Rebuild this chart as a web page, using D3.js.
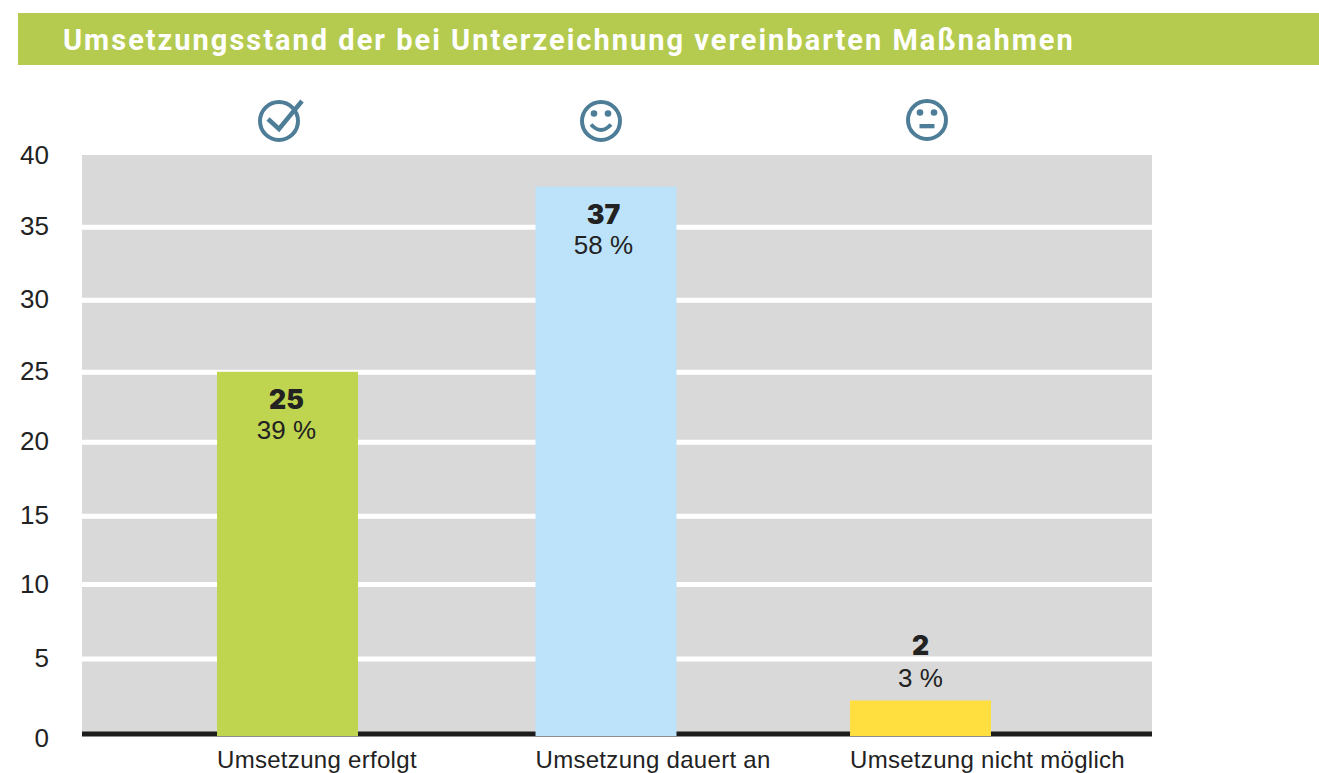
<!DOCTYPE html>
<html lang="de">
<head>
<meta charset="utf-8">
<title>Umsetzungsstand</title>
<script src="https://cdn.jsdelivr.net/npm/d3@7"></script>
<style>
html,body{margin:0;padding:0;background:#fff;overflow:hidden}
svg{display:block}
text{font-family:"Liberation Sans",Arial,sans-serif;fill:#222}
</style>
</head>
<body>
<svg id="chart" width="1319" height="773"></svg>
<script>
const chartTitle = "Umsetzungsstand der bei Unterzeichnung vereinbarten Maßnahmen";
const categories = ["Umsetzung erfolgt", "Umsetzung dauert an", "Umsetzung nicht möglich"];
const barValues = [25, 37.8, 2.2];   // bar heights as drawn
const countLabels = ["25", "37", "2"];
const shareLabels = ["39 %", "58 %", "3 %"];
const barColors = ["#bfd44f", "#bde3fa", "#ffdf3f"];
const iconKinds = ["check", "smile", "neutral"];
const tickValues = [0, 5, 10, 15, 20, 25, 30, 35, 40];

const svg = d3.select("#chart");
const plot = {left: 82, right: 1152, top: 155};
const baselineW = 5;

// The printed axis is slightly uneven, so the scale follows its measured tick rows.
const y = d3.scaleLinear()
  .domain(tickValues)
  .range([733.5, 658.5, 584, 515.8, 441.7, 371.8, 299.8, 226.8, 155]);
const x = d3.scaleOrdinal().domain(categories).range([217, 535.5, 850]);
const barWidth = 141;
const labelX = d3.scaleOrdinal().domain(categories).range([286.5, 603.5, 920.5]);
const iconX = d3.scaleOrdinal().domain(categories).range([279, 601, 927]);

// header
svg.append("rect").attr("x", 18).attr("y", 13).attr("width", 1301).attr("height", 52).attr("fill", "#b5cb4f");
svg.append("text").attr("x", 63).attr("y", 49.5)
  .style("font-family", "Roboto, sans-serif").style("font-weight", 700)
  .style("font-size", "29px").style("letter-spacing", "2px").style("fill", "#fff")
  .text(chartTitle);

// plot background
svg.append("rect").attr("x", plot.left).attr("y", plot.top)
  .attr("width", plot.right - plot.left).attr("height", y(0) - plot.top).attr("fill", "#d9d9d9");

// y axis with full-width gridlines
const axis = svg.append("g").attr("transform", `translate(${plot.left},0)`)
  .call(d3.axisLeft(y).tickValues(tickValues).tickFormat(d3.format("d"))
    .tickSize(-(plot.right - plot.left)).tickPadding(33));
axis.select(".domain").remove();
axis.selectAll(".tick line")
  .attr("stroke", d => d === 0 ? "#1d1d1b" : "#fff")
  .attr("stroke-width", d => d === 40 ? 0 : baselineW)
  .attr("stroke-opacity", 1);
axis.selectAll(".tick text")
  .attr("dy", d => d === 0 ? "12.5px" : "8px")
  .style("font-size", "26px").style("fill", "#222");

// bars
svg.append("g").selectAll("rect").data(categories).join("rect")
  .attr("x", d => x(d))
  .attr("y", (d, i) => y(barValues[i]))
  .attr("width", barWidth)
  .attr("height", (d, i) => y(0) + baselineW / 2 - y(barValues[i]))
  .attr("fill", (d, i) => barColors[i]);

// value labels: inside tall bars, above the short one
const isTall = i => barValues[i] > 10;
svg.append("g").selectAll("text").data(categories).join("text")
  .attr("x", d => labelX(d))
  .attr("y", (d, i) => y(barValues[i]) + (isTall(i) ? 37.5 : -46))
  .attr("text-anchor", "middle")
  .style("font-family", "Inter, sans-serif").style("font-weight", 900).style("font-size", "26.5px")
  .text((d, i) => countLabels[i]);
svg.append("g").selectAll("text").data(categories).join("text")
  .attr("x", d => labelX(d))
  .attr("y", (d, i) => y(barValues[i]) + (isTall(i) ? 67.5 : -14))
  .attr("text-anchor", "middle")
  .style("font-size", "26px")
  .text((d, i) => shareLabels[i]);

// category labels
svg.append("g").selectAll("text").data(categories).join("text")
  .attr("x", d => x(d))
  .attr("y", 767.8)
  .style("font-size", "24px").style("letter-spacing", "0.3px")
  .text(d => d);

// icons
const iconColor = "#4e7d98";
const icons = svg.append("g").selectAll("g").data(categories).join("g")
  .attr("transform", (d, i) => `translate(${iconX(d)},${iconKinds[i] === "neutral" ? 120 : 121})`);
icons.append("circle").attr("r", 19).attr("fill", "none").attr("stroke", iconColor).attr("stroke-width", 4);
icons.each(function (d, i) {
  const g = d3.select(this), kind = iconKinds[i];
  if (kind === "check") {
    g.append("path").attr("d", "M-11,-2L0,8L23,-20").attr("fill", "none")
      .attr("stroke", iconColor).attr("stroke-width", 4.5);
  } else {
    [-7, 7].forEach(ex => g.append("circle").attr("cx", ex).attr("cy", -7.5).attr("r", 3.3).attr("fill", iconColor));
    if (kind === "smile") {
      g.append("path").attr("d", "M-10,3.5Q0,14.5 10,3.5").attr("fill", "none")
        .attr("stroke", iconColor).attr("stroke-width", 4);
    } else {
      g.append("rect").attr("x", -7.5).attr("y", 4).attr("width", 15).attr("height", 4.3).attr("fill", iconColor);
    }
  }
});
</script>
</body>
</html>
